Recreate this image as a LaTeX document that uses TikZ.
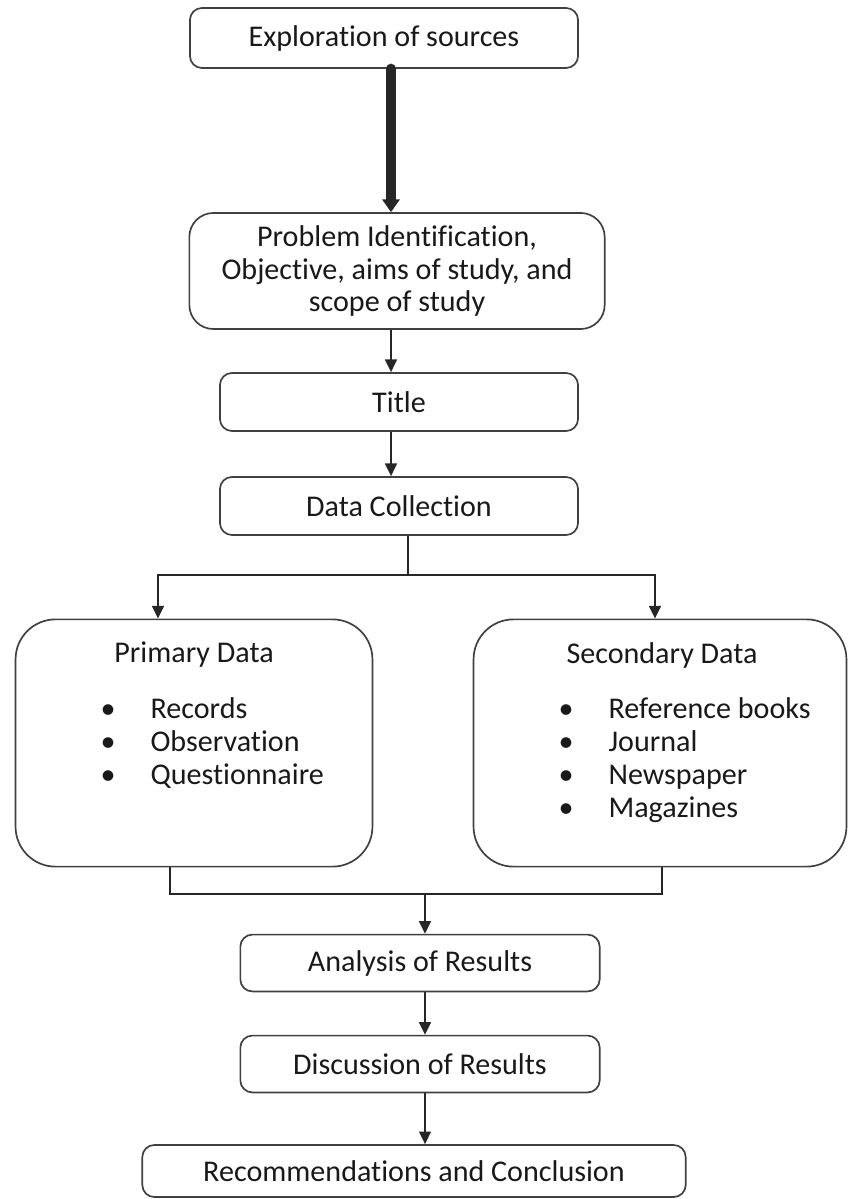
\documentclass[tikz,border=0pt]{standalone}
\usepackage{fontspec}
\setmainfont{Carlito}[Ligatures=NoCommon,RawFeature=-liga]
\usetikzlibrary{arrows.meta}
\begin{document}
\begin{tikzpicture}[x=0.0125cm,y=-0.0125cm,
		font=\fontsize{10.7}{11.4}\selectfont,
		box/.style={draw=black!75, line width=0.6pt, rounded corners=1.5mm, inner sep=0pt, align=center, text=black!90},
		bigbox/.style={box, rounded corners=5mm, minimum height=3.09cm},
		label/.style={inner sep=0pt, text=black!90},
		link/.style={draw=black!85, line width=0.75pt},
		arr/.style={link, -{Triangle[length=4.5pt,width=4.2pt]}}]
		\useasboundingbox (0,0) rectangle (848,1199);
		\node [box, minimum width=4.85cm, minimum height=0.75cm] (explore) at (384,38) {Exploration of sources};
		\node [box, rounded corners=3mm, minimum width=5.19cm, minimum height=1.45cm] (problem) at (397,271) {Problem Identification,\\Objective, aims of study, and\\scope of study};
		\node [box, minimum width=4.475cm, minimum height=0.725cm] (title) at (399,402) {Title};
		\node [box, minimum width=4.475cm, minimum height=0.725cm] (collect) at (399,506) {Data Collection};
		\node [bigbox, minimum width=4.46cm] (primary) at (194,743) {};
		\node [bigbox, minimum width=4.66cm] (secondary) at (660,743) {};
		\node [box, minimum width=4.49cm, minimum height=0.71cm] (analysis) at (420,963) {Analysis of Results};
		\node [box, minimum width=4.49cm, minimum height=0.71cm] (discuss) at (420,1064) {Discussion of Results};
		\node [box, minimum width=6.79cm, minimum height=0.65cm] (recommend) at (414,1171) {Recommendations and Conclusion};
		\node [label] (primhead) at (194,655) {Primary Data};
		\node [label] (sechead) at (662,655) {Secondary Data};
		\foreach \entry [count=\i from 0] in {Records, Observation, Questionnaire} {
			\node [label, anchor=base] (pdot\i) at (108,{718+33*\i}) {\textbullet};
			\node [label, anchor=base west] (pitem\i) at (150,{718+33*\i}) {\entry};
		}
		\foreach \entry [count=\i from 0] in {Reference books, Journal, Newspaper, Magazines} {
			\node [label, anchor=base] (sdot\i) at (566,{718+33*\i}) {\textbullet};
			\node [label, anchor=base west] (sitem\i) at (608,{718+33*\i}) {\entry};
		}
		\coordinate (upspine) at (391,0);
		\coordinate (split) at (408,575);
		\coordinate (pdrop) at (158,575);
		\coordinate (sdrop) at (655,575);
		\coordinate (pjoin) at (170,894);
		\coordinate (sjoin) at (662,894);
		\coordinate (lowspine) at (425,0);
		\draw [link, line width=3.7pt, line cap=round, -{Triangle[length=4.5pt,width=6pt]}] (explore.south -| upspine) -- (problem.north -| upspine);
		\draw [arr] (problem.south -| upspine) -- (title.north -| upspine);
		\draw [arr] (title.south -| upspine) -- (collect.north -| upspine);
		\draw [link] (collect.south -| split) -- (split);
		\draw [arr] (split) -- (pdrop) -- (pdrop |- primary.north);
		\draw [arr] (split) -- (sdrop) -- (sdrop |- secondary.north);
		\draw [link] (pjoin |- primary.south) -- (pjoin) -- (sjoin) -- (sjoin |- secondary.south);
		\draw [arr] (lowspine |- pjoin) -- (lowspine |- analysis.north);
		\draw [arr] (analysis.south -| lowspine) -- (discuss.north -| lowspine);
		\draw [arr] (discuss.south -| lowspine) -- (recommend.north -| lowspine);
	\end{tikzpicture}
\end{document}
